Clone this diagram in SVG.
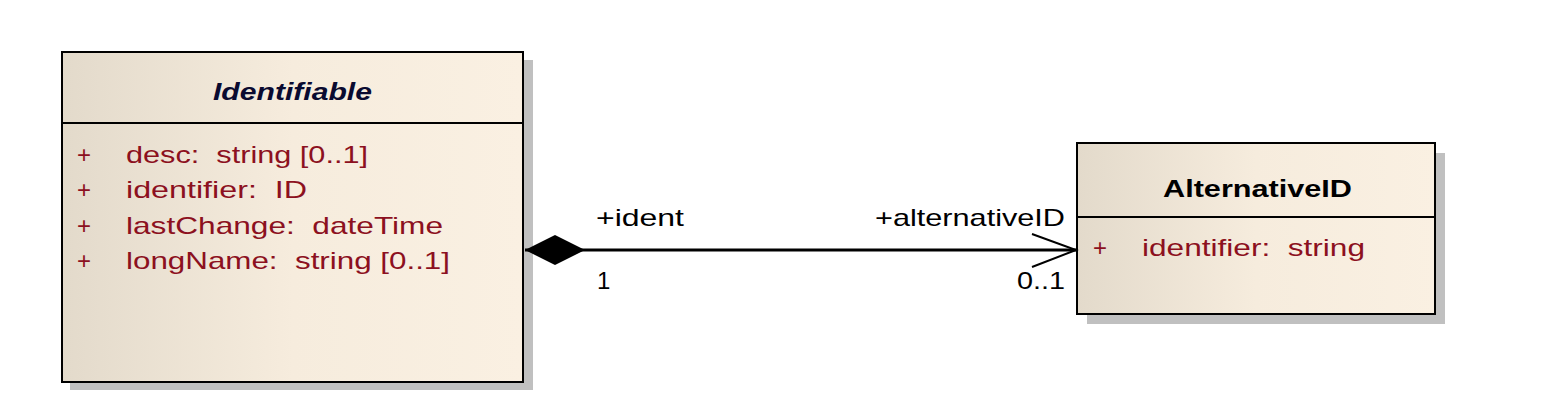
<svg xmlns="http://www.w3.org/2000/svg" width="1542" height="414" viewBox="0 0 1542 414">
  <defs>
    <linearGradient id="fill" x1="0" y1="0" x2="1" y2="0">
      <stop offset="0" stop-color="#e3dacb"/>
      <stop offset="0.5" stop-color="#f6ecdd"/>
      <stop offset="1" stop-color="#faf0e2"/>
    </linearGradient>
  </defs>
  <style>
    .shadow { fill: #c0c0c0; }
    .box { fill: url(#fill); stroke: #000; stroke-width: 2; }
    .div { stroke: #000; stroke-width: 2; }
    .title { font-family: "Liberation Sans", Arial, sans-serif; font-size: 24px; font-weight: bold; fill: #0a0a30; }
    .attr { font-family: "Liberation Sans", Arial, sans-serif; font-size: 24px; fill: #8c1020; }
    .lbl { font-family: "Liberation Sans", Arial, sans-serif; font-size: 24px; fill: #000; }
    .conn { stroke: #000; stroke-width: 3; fill: none; }
  </style>
  <rect width="1542" height="414" fill="#fff"/>

  <g id="node-identifiable">
    <rect class="shadow" x="70" y="60" width="463" height="330"/>
    <rect class="box" x="62" y="52" width="461" height="330"/>
    <line class="div" x1="62" y1="123" x2="523" y2="123"/>
    <text class="title" x="292.5" y="100" text-anchor="middle" font-style="italic" textLength="159" lengthAdjust="spacingAndGlyphs">Identifiable</text>
    <text class="attr" x="77" y="163">+</text>
    <text class="attr" x="126" y="163" textLength="242" lengthAdjust="spacingAndGlyphs" xml:space="preserve">desc:  string [0..1]</text>
    <text class="attr" x="77" y="198">+</text>
    <text class="attr" x="126" y="198" textLength="181" lengthAdjust="spacingAndGlyphs" xml:space="preserve">identifier:  ID</text>
    <text class="attr" x="77" y="234">+</text>
    <text class="attr" x="126" y="234" textLength="317" lengthAdjust="spacingAndGlyphs" xml:space="preserve">lastChange:  dateTime</text>
    <text class="attr" x="77" y="269">+</text>
    <text class="attr" x="126" y="269" textLength="324" lengthAdjust="spacingAndGlyphs" xml:space="preserve">longName:  string [0..1]</text>
  </g>

  <g id="node-alternativeid">
    <rect class="shadow" x="1087" y="153" width="358" height="171"/>
    <rect class="box" x="1077" y="143" width="358" height="171"/>
    <line class="div" x1="1077" y1="217" x2="1435" y2="217"/>
    <text class="title" x="1257.5" y="197" text-anchor="middle" fill="#000" style="fill:#000" textLength="189" lengthAdjust="spacingAndGlyphs">AlternativeID</text>
    <text class="attr" x="1093" y="256">+</text>
    <text class="attr" x="1142" y="256" textLength="223" lengthAdjust="spacingAndGlyphs" xml:space="preserve">identifier:  string</text>
  </g>

  <g id="connectors">
    <line class="conn" x1="525" y1="250" x2="1076" y2="250"/>
    <polygon points="525,250 555,235 585,250 555,265" fill="#000"/>
    <polyline points="1032,234 1076,250 1032,267" fill="none" stroke="#000" stroke-width="2"/>
    <text class="lbl" x="596" y="226" textLength="88" lengthAdjust="spacingAndGlyphs">+ident</text>
    <text class="lbl" x="597" y="289">1</text>
    <text class="lbl" x="875" y="226" textLength="190" lengthAdjust="spacingAndGlyphs">+alternativeID</text>
    <text class="lbl" x="1017" y="289" textLength="48" lengthAdjust="spacingAndGlyphs">0..1</text>
  </g>
</svg>
